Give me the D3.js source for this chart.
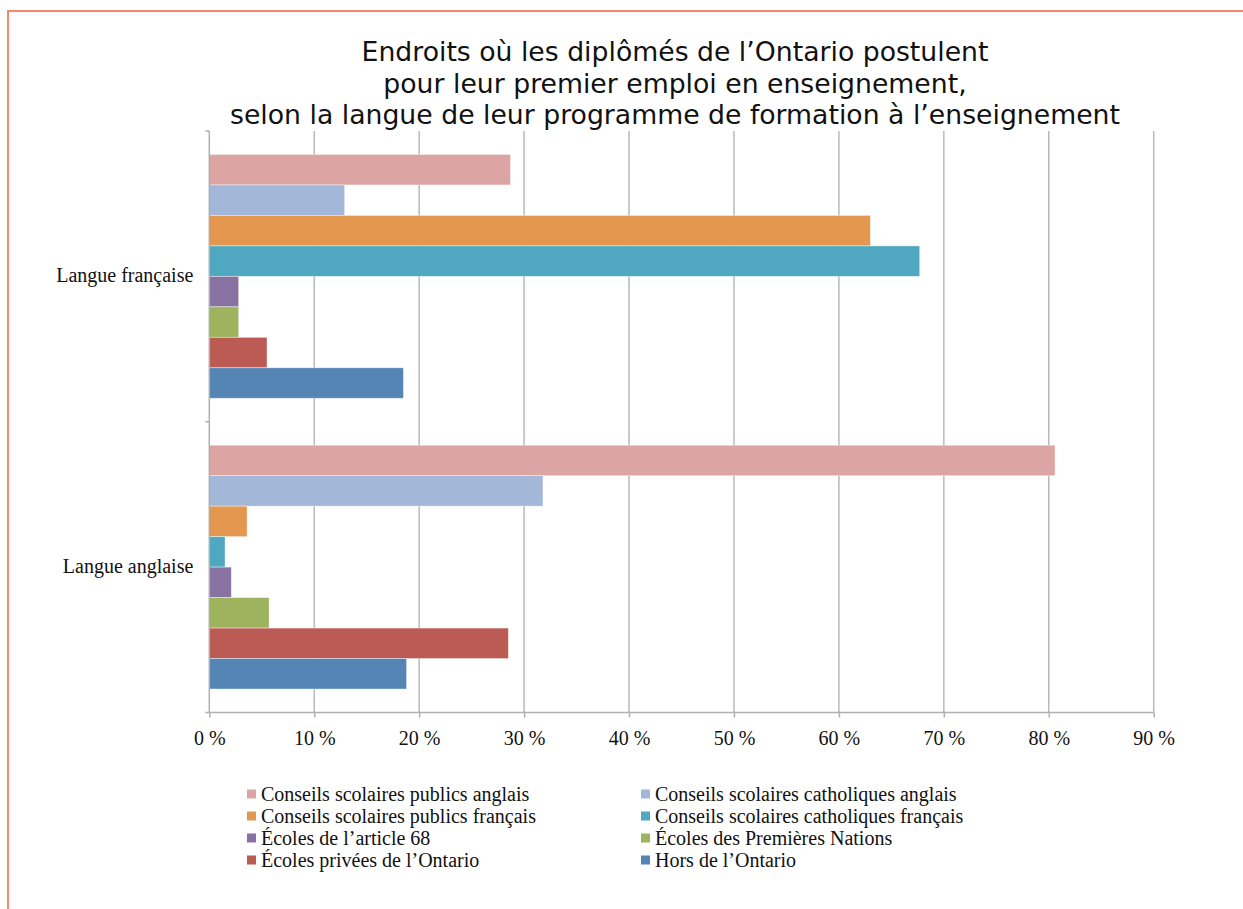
<!DOCTYPE html>
<html><head><meta charset="utf-8">
<script src="https://cdn.jsdelivr.net/npm/d3@7"></script>
<style>body{margin:0;background:#fff}svg{display:block}</style>
</head><body>
<script>
const categories = ["Langue française", "Langue anglaise"];
const seriesNames = [
  "Conseils scolaires publics anglais",
  "Conseils scolaires catholiques anglais",
  "Conseils scolaires publics français",
  "Conseils scolaires catholiques français",
  "Écoles de l’article 68",
  "Écoles des Premières Nations",
  "Écoles privées de l’Ontario",
  "Hors de l’Ontario"
];
const seriesColors = ["#dca5a4","#a3b7d9","#e3974f","#50a8c0","#8872a1","#9db35e","#bb5b53","#5585b5"];
const valuesFrancaise = [28.7, 12.9, 63.0, 67.7, 2.8, 2.8, 5.5, 18.5];
const valuesAnglaise  = [80.6, 31.8, 3.6, 1.5, 2.1, 5.7, 28.5, 18.8];
const tickValues = [0,10,20,30,40,50,60,70,80,90];
const titleLines = [
  "Endroits où les diplômés de l’Ontario postulent",
  "pour leur premier emploi en enseignement,",
  "selon la langue de leur programme de formation à l’enseignement"
];

const W = 1243, H = 909;
const svg = d3.select("body").append("svg").attr("width", W).attr("height", H);

// frame
svg.append("line").attr("x1",7).attr("x2",W).attr("y1",11).attr("y2",11).attr("stroke","#f4876e").attr("stroke-width",2);
svg.append("line").attr("x1",8).attr("x2",8).attr("y1",10).attr("y2",H).attr("stroke","#f4876e").attr("stroke-width",2);

// title
svg.append("text").attr("x", 675).attr("y", 61)
  .attr("text-anchor","middle").attr("font-family","DejaVu Sans").attr("font-size",26.7).attr("fill","#111")
  .selectAll("tspan").data(titleLines).join("tspan")
  .attr("x",675).attr("dy",(d,i)=> i===0?0:31.5).text(d=>d);

const pLeft = 209.3, pRight = 1153.7, pTop = 131, pBottom = 712.5;
const x = d3.scaleLinear().domain([0,90]).range([pLeft,pRight]);
const y = d3.scaleBand().domain(categories).range([pTop,pBottom]).paddingInner(0).paddingOuter(0);
const inner = d3.scaleBand().domain(seriesNames).range([0,y.bandwidth()]).paddingInner(0).paddingOuter(0.77);

// gridlines
svg.append("g").selectAll("line").data(tickValues.slice(1)).join("line")
  .attr("x1",d=>x(d)).attr("x2",d=>x(d)).attr("y1",pTop).attr("y2",pBottom)
  .attr("stroke","#b9b9b9").attr("stroke-width",1.5);

const data = categories.map((c,ci)=>({cat:c, vals:(ci===0?valuesFrancaise:valuesAnglaise)}));

const g = svg.append("g");
data.forEach(d=>{
  g.append("g").selectAll("rect").data(d.vals.map((v,i)=>({v,i}))).join("rect")
    .attr("x",x(0)).attr("y",e=>y(d.cat)+inner(seriesNames[e.i]))
    .attr("width",e=>x(e.v)-x(0)).attr("height",inner.bandwidth())
    .attr("fill",e=>seriesColors[e.i])
    .attr("stroke","rgba(255,255,255,0.5)").attr("stroke-width",0.8);
});

// y axis
const yAxisG = svg.append("g").attr("transform",`translate(${pLeft},0)`);
yAxisG.append("line").attr("x1",0).attr("x2",0).attr("y1",pTop).attr("y2",pBottom).attr("stroke","#b0b0b0").attr("stroke-width",1.5);
yAxisG.selectAll("line.tk").data([pTop, pTop + y.bandwidth(), pBottom]).join("line").attr("class","tk")
  .attr("x1",-4).attr("x2",0).attr("y1",d=>d).attr("y2",d=>d).attr("stroke","#b0b0b0").attr("stroke-width",1.5);
yAxisG.selectAll("text").data(categories).join("text")
  .attr("x",-16).attr("y",d=>y(d)+y.bandwidth()/2+6)
  .attr("text-anchor","end").attr("font-family","Liberation Serif").attr("font-size",20).attr("fill","#111").text(d=>d);

// x axis
const xAxis = d3.axisBottom(x).tickValues(tickValues).tickSize(5).tickFormat(d=>d+" %");
const xg = svg.append("g").attr("transform",`translate(0,${pBottom})`).call(xAxis);
xg.select(".domain").attr("stroke","#b0b0b0").attr("stroke-width",1.5).attr("d",`M${pLeft},0H${pRight}`);
xg.selectAll(".tick line").attr("stroke","#b0b0b0").attr("stroke-width",1.5);
xg.selectAll(".tick text").attr("font-family","Liberation Serif").attr("font-size",20).attr("fill","#111").attr("dy",0).attr("y",32);

// legend
const legend = svg.append("g");
seriesNames.forEach((s,i)=>{
  const col = i%2, row = Math.floor(i/2);
  const lx = col===0 ? 247 : 641, ly = 794 + row*22;
  legend.append("rect").attr("x",lx).attr("y",ly-4.5).attr("width",9).attr("height",9).attr("fill",seriesColors[i]);
  legend.append("text").attr("x",lx+14).attr("y",ly+7).attr("font-family","Liberation Serif").attr("font-size",20).attr("fill","#111").text(s);
});
</script>
</body></html>
